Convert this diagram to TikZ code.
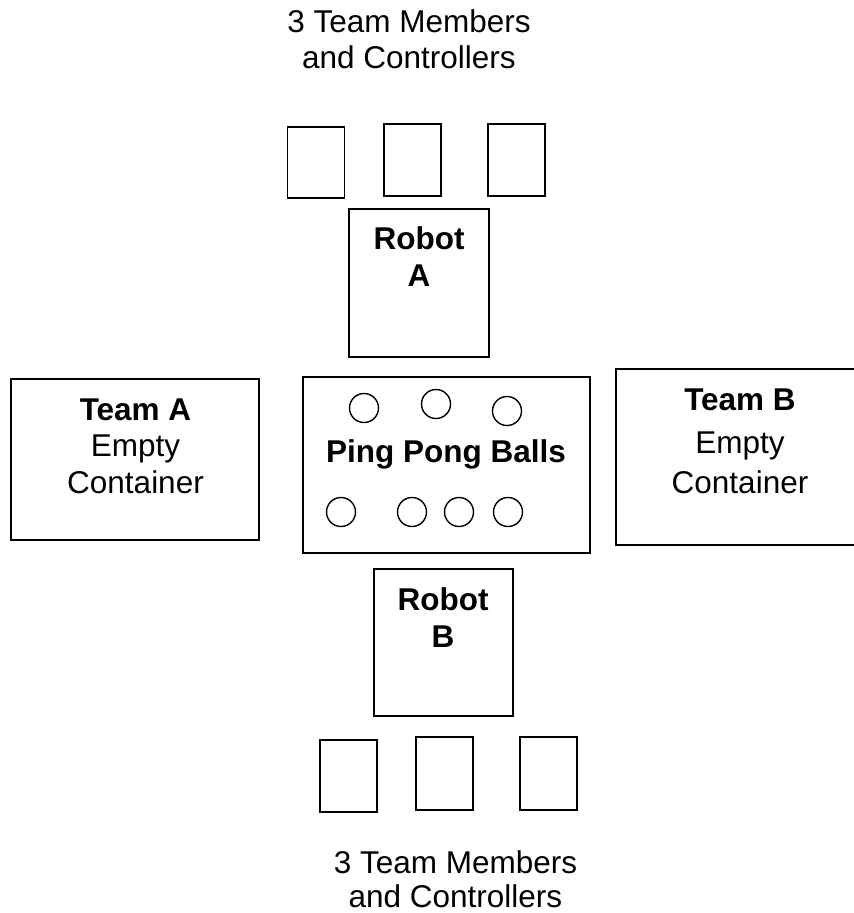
\documentclass[tikz,border=0pt]{standalone}
\usepackage{fontspec}
\setmainfont{Liberation Sans}
\begin{document}
\begin{tikzpicture}[x=1pt,y=-1pt,
  every node/.style={inner sep=0pt,outer sep=0pt},
  outline/.style={draw=black,line width=1.7pt,fill=white},
  area/.style={outline,rectangle,minimum width=#1},
  seat/.style={outline,rectangle,minimum width=57pt,minimum height=72pt},
  ball/.style={draw=black,line width=1.4pt,circle,minimum size=29pt},
  label/.style={anchor=base,align=center,font=\fontsize{31.5}{36.5}\selectfont},
  boldlabel/.style={label,font=\fontsize{31.5}{36.5}\selectfont\bfseries}]
\useasboundingbox (0,0) rectangle (854,913);
\clip (0,0) rectangle (854,913);
\fill[white] (0,0) rectangle (854,913);

% team members above robot A (base anchor sits on the last line)
\node[label,font=\fontsize{31.5}{36}\selectfont] (topcrew) at (409,68) {3 Team Members\\and Controllers};
\node[seat,minimum height=71pt] (ta1) at (316,162.5) {};
\node[seat] (ta2) at (412.5,160) {};
\node[seat] (ta3) at (516.5,160) {};

% robot A
\node[area=140pt,minimum height=148pt] (robotA) at (419,283) {};
\node[boldlabel,font=\fontsize{31.5}{37}\selectfont\bfseries] (robotAlbl) at (419,286) {Robot\\A};

% team A container
\node[area=248pt,minimum height=161pt] (teamA) at (135,459.5) {};
\node[label] (teamAlbl) at (135.5,493) {\textbf{Team A}\\Empty\\Container};

% ping pong ball tray
\node[area=287pt,minimum height=176pt] (tray) at (446.5,465) {};
\node[boldlabel] (traylbl) at (446,462) {Ping Pong Balls};
\node[ball] (b1) at (364,408) {};
\node[ball] (b2) at (436,404) {};
\node[ball] (b3) at (507,411) {};
\node[ball] (b4) at (341,512) {};
\node[ball] (b5) at (412,512) {};
\node[ball] (b6) at (459,512) {};
\node[ball] (b7) at (508,512) {};

% team B container (runs past the right edge)
\node[area=284pt,minimum height=176pt] (teamB) at (758,457) {};
\node[label] (teamBlbl) at (740,493) {\textbf{Team B}\\[6.5pt]Empty\\[3.5pt]Container};

% robot B
\node[area=139pt,minimum height=147pt] (robotB) at (443.5,642.5) {};
\node[boldlabel] (robotBlbl) at (443,647) {Robot\\B};

% team members below robot B
\node[seat] (tb1) at (348.5,776) {};
\node[seat,minimum height=73pt] (tb2) at (444.5,773.5) {};
\node[seat,minimum height=73pt] (tb3) at (548.5,773.5) {};
\node[label,font=\fontsize{31.5}{34}\selectfont] (botcrew) at (455.5,907) {3 Team Members\\and Controllers};
\end{tikzpicture}
\end{document}
